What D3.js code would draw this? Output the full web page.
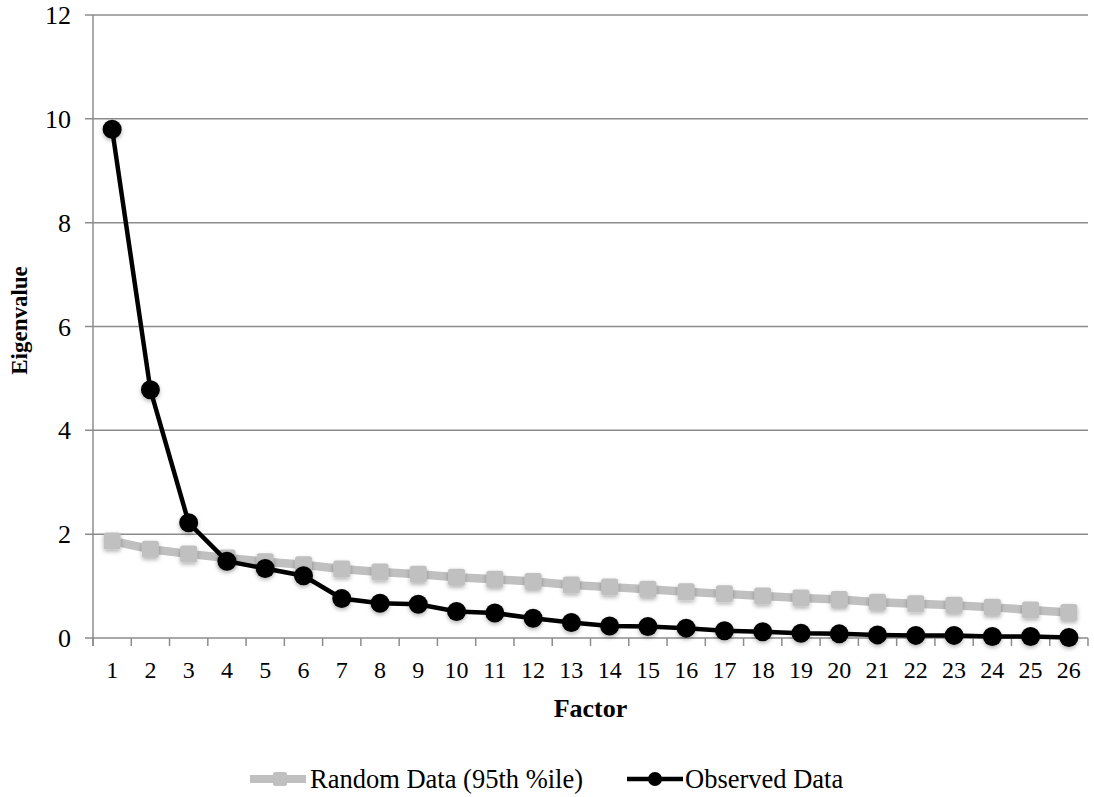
<!DOCTYPE html>
<html>
<head>
<meta charset="utf-8">
<script src="https://cdn.jsdelivr.net/npm/d3@7"></script>
<style>
  body { margin: 0; background: #fff; }
  svg text { font-family: 'Liberation Serif', 'Times New Roman', Times, serif; fill: #000; }
</style>
</head>
<body>
<div id="figure"></div>
<script>
// chart data
var factors = d3.range(1, 27);
var randomData = [1.87, 1.71, 1.62, 1.54, 1.47, 1.41, 1.33, 1.27, 1.23, 1.17, 1.13, 1.09, 1.02,
                  0.98, 0.94, 0.89, 0.85, 0.81, 0.77, 0.74, 0.69, 0.66, 0.63, 0.59, 0.54, 0.49];
var observedData = [9.80, 4.78, 2.22, 1.48, 1.34, 1.20, 0.76, 0.67, 0.65, 0.51, 0.48, 0.38, 0.30,
                    0.23, 0.22, 0.19, 0.14, 0.12, 0.09, 0.08, 0.06, 0.05, 0.05, 0.03, 0.03, 0.01];
var yTicks = [0, 2, 4, 6, 8, 10, 12];
var seriesNames = ["Random Data (95th %ile)", "Observed Data"];

const W = 1094, H = 797;
const margin = {top: 15, right: 6, bottom: 159, left: 93},
  width = W - margin.left - margin.right,
  height = H - margin.top - margin.bottom;
const serif = "'Liberation Serif', 'Times New Roman', serif";

const root = d3.select("#figure").append("svg")
  .attr("width", W).attr("height", H)
  .attr("font-family", serif);

const defs = root.append("defs");
const f = defs.append("filter").attr("id", "shadow")
  .attr("x", "-50%").attr("y", "-50%").attr("width", "200%").attr("height", "200%");
f.append("feDropShadow").attr("dx", 0).attr("dy", 2).attr("stdDeviation", 2)
  .attr("flood-color", "#000").attr("flood-opacity", 0.3);

const svg = root.append("g").attr("transform", `translate(${margin.left},${margin.top})`);

const x = d3.scaleBand().domain(factors).range([0, width]);
const y = d3.scaleLinear().domain([0, 12]).range([height, 0]);
const cx = d => x(d) + x.bandwidth() / 2;

// gridlines
svg.append("g").selectAll("line").data(yTicks).join("line")
  .attr("x1", -8).attr("x2", width)
  .attr("y1", d => y(d)).attr("y2", d => y(d))
  .attr("stroke", "#8c8c8c").attr("stroke-width", 1.5);

// y axis line
svg.append("line").attr("x1", 0).attr("x2", 0).attr("y1", 0).attr("y2", height + 8)
  .attr("stroke", "#8c8c8c").attr("stroke-width", 1.5);

// x tick marks at band boundaries
svg.append("g").selectAll("line").data(factors.concat([null])).join("line")
  .attr("x1", (d, i) => i * x.step()).attr("x2", (d, i) => i * x.step())
  .attr("y1", height).attr("y2", height + 8)
  .attr("stroke", "#8c8c8c").attr("stroke-width", 1.5);

// y labels
svg.append("g").selectAll("text").data(yTicks).join("text")
  .attr("x", -22).attr("y", d => y(d)).attr("dy", "0.35em")
  .attr("text-anchor", "end").attr("font-family", serif).style("font-size", "26px")
  .text(d => d);

// x labels
svg.append("g").selectAll("text").data(factors).join("text")
  .attr("x", d => cx(d)).attr("y", height + 40)
  .attr("text-anchor", "middle").attr("font-family", serif).style("font-size", "24px")
  .text(d => d);

// axis titles
svg.append("text").attr("x", width / 2).attr("y", height + 79)
  .attr("text-anchor", "middle").attr("font-family", serif)
  .style("font-size", "26px").style("font-weight", "bold")
  .text("Factor");
svg.append("text").attr("transform", `translate(${-66},${height / 2 - 6}) rotate(-90)`)
  .attr("text-anchor", "middle").attr("font-family", serif)
  .style("font-size", "23px").style("font-weight", "bold")
  .text("Eigenvalue");

const line = d3.line().x((d, i) => cx(factors[i])).y(d => y(d));

// random data series
svg.append("path").datum(randomData).attr("d", line)
  .attr("fill", "none").attr("stroke", "#c0c0c0").attr("stroke-width", 8.5);
svg.append("g").attr("filter", "url(#shadow)").selectAll("rect").data(randomData).join("rect")
  .attr("x", (d, i) => cx(factors[i]) - 8.5).attr("y", d => y(d) - 8.5)
  .attr("width", 17).attr("height", 17).attr("rx", 2.5)
  .attr("fill", "#c0c0c0");

// observed series
svg.append("path").datum(observedData).attr("d", line)
  .attr("fill", "none").attr("stroke", "#000").attr("stroke-width", 4.5);
svg.append("g").attr("filter", "url(#shadow)").selectAll("circle").data(observedData).join("circle")
  .attr("cx", (d, i) => cx(factors[i])).attr("cy", d => y(d)).attr("r", 9.5)
  .attr("fill", "#000");

// legend
const lg = root.append("g").attr("transform", `translate(0,${H - 18})`);
const l1 = lg.append("g").attr("transform", "translate(250,0)");
l1.append("line").attr("x1", 0).attr("x2", 56).attr("stroke", "#c0c0c0").attr("stroke-width", 8);
l1.append("rect").attr("x", 23).attr("y", -7).attr("width", 14).attr("height", 14).attr("rx", 2).attr("fill", "#c0c0c0");
l1.append("text").attr("x", 60).attr("dy", "0.35em").attr("font-family", serif)
  .style("font-size", "26.5px").text(seriesNames[0]);

const l2 = lg.append("g").attr("transform", "translate(627,0)");
l2.append("line").attr("x1", 0).attr("x2", 56).attr("stroke", "#000").attr("stroke-width", 4.5);
l2.append("circle").attr("cx", 28).attr("r", 7).attr("fill", "#000");
l2.append("text").attr("x", 58).attr("dy", "0.35em").attr("font-family", serif)
  .style("font-size", "26.5px").text(seriesNames[1]);
</script>
</body>
</html>
